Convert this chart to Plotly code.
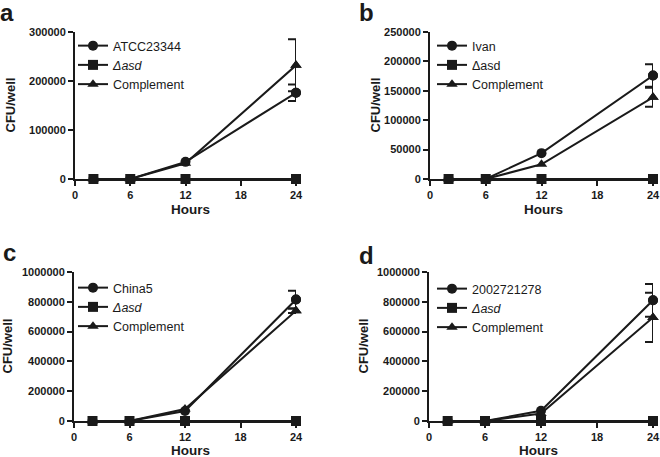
import plotly.graph_objects as go

hours = [2, 6, 12, 24]

# Panel a
a_names = ["ATCC23344", "<i>Δasd</i>", "Complement"]
a_wt = [0, 0, 35000, 176000]
a_asd = [0, 0, 0, 0]
a_comp = [0, 0, 32000, 232000]
a_wt_err24 = 17000
a_comp_err24 = 53000

# Panel b
b_names = ["Ivan", "Δasd", "Complement"]
b_wt = [0, 0, 44000, 176000]
b_asd = [0, 0, 0, 0]
b_comp = [0, 0, 25000, 139000]
b_wt_err24 = 19000
b_comp_err24 = 16000

# Panel c
c_names = ["China5", "<i>Δasd</i>", "Complement"]
c_wt = [0, 0, 67000, 815000]
c_asd = [0, 0, 0, 0]
c_comp = [0, 0, 80000, 740000]
c_wt_err24 = 60000
c_comp_err24 = 15000

# Panel d
d_names = ["2002721278", "<i>Δasd</i>", "Complement"]
d_wt = [0, 0, 69000, 810000]
d_asd = [0, 0, 0, 0]
d_comp = [0, 0, 50000, 695000]
d_wt_err24 = 110000
d_comp_err24 = 165000

x_ticks = [0, 6, 12, 18, 24]

W, H = 660, 457
INK = "#1a1a1a"
FONT = "Liberation Sans, Arial, sans-serif"

panels = [
    dict(names=a_names, wt=a_wt, asd=a_asd, comp=a_comp, wt_err=a_wt_err24, comp_err=a_comp_err24,
         xpx=(75, 296), ypx=(32, 179), ymax=300000, dtick=100000, letter="a", lpos=(7, 12),
         ytx=10, htx=(190, 210), leg=(73, 31)),
    dict(names=b_names, wt=b_wt, asd=b_asd, comp=b_comp, wt_err=b_wt_err24, comp_err=b_comp_err24,
         xpx=(430, 653), ypx=(32, 179), ymax=250000, dtick=50000, letter="b", lpos=(366, 12),
         ytx=375, htx=(543, 210), leg=(432, 31)),
    dict(names=c_names, wt=c_wt, asd=c_asd, comp=c_comp, wt_err=c_wt_err24, comp_err=c_comp_err24,
         xpx=(74, 296), ypx=(272, 421), ymax=1000000, dtick=200000, letter="c", lpos=(9, 253),
         ytx=7, htx=(190, 450.5), leg=(73, 273)),
    dict(names=d_names, wt=d_wt, asd=d_asd, comp=d_comp, wt_err=d_wt_err24, comp_err=d_comp_err24,
         xpx=(429, 653), ypx=(272, 421), ymax=1000000, dtick=200000, letter="d", lpos=(366, 255),
         ytx=363, htx=(538, 450.5), leg=(432, 274)),
]

fig = go.Figure()
layout = dict(width=W, height=H, margin=dict(l=0, r=0, t=0, b=0),
              paper_bgcolor="white", plot_bgcolor="white", showlegend=True,
              font=dict(family=FONT, color=INK))
annotations = []

for i, p in enumerate(panels, start=1):
    xa = "x" if i == 1 else f"x{i}"
    ya = "y" if i == 1 else f"y{i}"
    lg = "legend" if i == 1 else f"legend{i}"
    series = [
        (p["names"][0], p["wt"], p["wt_err"], "circle"),
        (p["names"][1], p["asd"], None, "square"),
        (p["names"][2], p["comp"], p["comp_err"], "triangle-up"),
    ]
    # error bars (only at the last time point)
    for name, vals, err, sym in series:
        if err is not None:
            fig.add_trace(go.Scatter(
                x=hours[-1:], y=vals[-1:], mode="markers", showlegend=False,
                marker=dict(symbol=sym, size=10, color=INK),
                error_y=dict(type="data", array=[err], symmetric=True,
                             color=INK, thickness=2, width=8),
                xaxis=xa, yaxis=ya, legend=lg, cliponaxis=False, hoverinfo="skip"))
    for name, vals, err, sym in series:
        fig.add_trace(go.Scatter(
            x=hours, y=vals, name=name, mode="lines+markers",
            line=dict(color=INK, width=2),
            marker=dict(symbol=sym, size=10, color=INK),
            xaxis=xa, yaxis=ya, legend=lg, cliponaxis=False))

    x0, x1 = p["xpx"]
    yt, yb = p["ypx"]
    axkey_x = "xaxis" if i == 1 else f"xaxis{i}"
    axkey_y = "yaxis" if i == 1 else f"yaxis{i}"
    layout[axkey_x] = dict(domain=[x0 / W, x1 / W], range=[0, 24], tickvals=x_ticks,
                           showline=True, linecolor=INK, linewidth=2, ticks="outside",
                           ticklen=5, tickwidth=2, tickcolor=INK, showgrid=False,
                           zeroline=False, anchor=ya, automargin=False,
                           tickfont=dict(size=11, family=FONT, weight="bold", color=INK))
    layout[axkey_y] = dict(domain=[1 - yb / H, 1 - yt / H], range=[0, p["ymax"]],
                           dtick=p["dtick"], tick0=0, tickformat="d",
                           showline=True, linecolor=INK, linewidth=2, ticks="outside",
                           ticklen=5, tickwidth=2, tickcolor=INK, showgrid=False,
                           zeroline=False, anchor=xa, automargin=False,
                           tickfont=dict(size=11, family=FONT, weight="bold", color=INK))
    layout[lg] = dict(x=p["leg"][0] / W, y=1 - p["leg"][1] / H, xanchor="left", yanchor="top",
                      bgcolor="rgba(0,0,0,0)", borderwidth=0,
                      font=dict(size=12.5, family=FONT, color=INK))
    annotations.append(dict(text=f"<b>{p['letter']}</b>", x=p["lpos"][0] / W, y=1 - p["lpos"][1] / H,
                            xref="paper", yref="paper", showarrow=False,
                            xanchor="center", yanchor="middle",
                            font=dict(size=24, family=FONT, color=INK)))
    annotations.append(dict(text="<b>CFU/well</b>", x=p["ytx"] / W, y=1 - ((yt + yb) / 2) / H,
                            xref="paper", yref="paper", showarrow=False, textangle=-90,
                            xanchor="center", yanchor="middle",
                            font=dict(size=13, family=FONT, color=INK)))
    annotations.append(dict(text="<b>Hours</b>", x=p["htx"][0] / W, y=1 - p["htx"][1] / H,
                            xref="paper", yref="paper", showarrow=False,
                            xanchor="center", yanchor="middle",
                            font=dict(size=13.5, family=FONT, color=INK)))

layout["annotations"] = annotations
fig.update_layout(**layout)
fig.write_html("out.html", config={"displayModeBar": False},
               post_script="document.body.style.margin='0';document.body.style.overflow='hidden';")
